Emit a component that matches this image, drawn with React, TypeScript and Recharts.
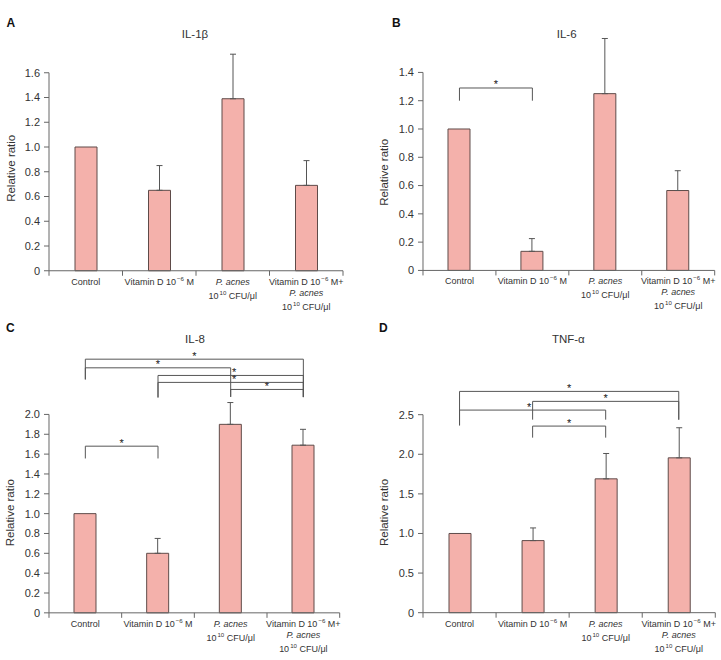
import React from 'react';
import { BarChart, Bar, XAxis, YAxis, ErrorBar, ReferenceLine } from 'recharts';

// treatment groups, shared by all four panels
const groups = ['Control', 'Vitamin D', 'P. acnes', 'Vitamin D + P. acnes'];

// axis captions per group: ^{..} = superscript, _.._ = italic
const groupCaptions = [
  ['Control'],
  ['Vitamin D 10^{−6} M'],
  ['_P. acnes_', '10^{10} CFU/μl'],
  ['Vitamin D 10^{−6} M+', '_P. acnes_', '10^{10} CFU/μl'],
];

// IL-1β
const il1bMean = [1.0, 0.65, 1.39, 0.69];
const il1bErr = [null, 0.2, 0.36, 0.2];
const il1bTicks = [0, 0.2, 0.4, 0.6, 0.8, 1.0, 1.2, 1.4, 1.6];

// IL-6
const il6Mean = [1.0, 0.135, 1.25, 0.565];
const il6Err = [null, 0.09, 0.39, 0.14];
const il6Ticks = [0, 0.2, 0.4, 0.6, 0.8, 1.0, 1.2, 1.4];

// IL-8
const il8Mean = [1.0, 0.6, 1.9, 1.69];
const il8Err = [null, 0.15, 0.22, 0.16];
const il8Ticks = [0, 0.2, 0.4, 0.6, 0.8, 1.0, 1.2, 1.4, 1.6, 1.8, 2.0];

// TNF-α
const tnfMean = [1.0, 0.91, 1.69, 1.955];
const tnfErr = [null, 0.16, 0.32, 0.38];
const tnfTicks = [0, 0.5, 1.0, 1.5, 2.0, 2.5];

// significance brackets: [from group, to group, bar level, left leg end, right leg end, star nudge px]
type Bracket = [number, number, number, number, number, number];
const il1bBrackets: Bracket[] = [];
const il6Brackets: Bracket[] = [[0, 1, 1.29, 1.2, 1.2, 0]];
const il8Brackets: Bracket[] = [
  [0, 3, 2.557, 2.353, 2.175, 0],
  [0, 2, 2.47, 2.353, 2.177, 0],
  [1, 3, 2.393, 2.171, 2.175, 3.5],
  [1, 3, 2.323, 2.171, 2.175, 3.5],
  [2, 3, 2.252, 2.177, 2.175, 0],
  [0, 1, 1.68, 1.556, 1.556, 0],
];
const tnfBrackets: Bracket[] = [
  [0, 3, 2.794, 2.365, 2.437, 0],
  [1, 3, 2.668, 2.437, 2.437, 0],
  [0, 2, 2.558, 2.365, 2.437, -3.5],
  [1, 2, 2.356, 2.21, 2.21, 0],
];

const FONT = '"Liberation Sans", Arial, Helvetica, sans-serif';
const AXIS = '#666';
const INK = '#333';
const BAR_FILL = '#f4b1ab';
const BAR_EDGE = '#5e4b49';
const BRACKET = '#555';

const Y_W = 50;
const X_H = 50;
const M_TOP = 20;
const M_RIGHT = 4;

const fmt = (v: number) => (v === 0 ? '0' : v.toFixed(1));

function richLine(line: string, baseSize: number) {
  const parts = line.split(/(\^\{[^}]*\}|_[^_]*_)/).filter(Boolean);
  let raised = false;
  return parts.map((p, i) => {
    if (p.startsWith('^{')) {
      raised = true;
      return (
        <tspan key={i} dy={-4} dx={1} fontSize={baseSize * 0.68}>
          {p.slice(2, -1)}
        </tspan>
      );
    }
    const dy = raised ? 4 : undefined;
    raised = false;
    if (p.startsWith('_') && p.endsWith('_')) {
      return (
        <tspan key={i} dy={dy} fontStyle="italic">
          {p.slice(1, -1)}
        </tspan>
      );
    }
    return (
      <tspan key={i} dy={dy}>
        {p}
      </tspan>
    );
  });
}

function GroupTick(props: any) {
  const { x, y, payload, index } = props;
  const half = payload?.offset || 36;
  const lines = groupCaptions[index] || [];
  let dy = 14;
  return (
    <g>
      <line x1={x - half} x2={x - half} y1={y} y2={y + 5} stroke={AXIS} />
      {index === groups.length - 1 && (
        <line x1={x + half} x2={x + half} y1={y} y2={y + 5} stroke={AXIS} />
      )}
      {lines.map((ln, i) => {
        const ty = y + dy;
        dy += i === 0 && lines.length === 3 ? 11 : 14;
        return (
          <text key={i} x={x} y={ty} textAnchor="middle" fontSize={9} fill={INK}>
            {richLine(ln, 9)}
          </text>
        );
      })}
    </g>
  );
}

// asterisk centred over a bracket, optionally nudged off a crossing leg
const star = (nudge: number) => (p: any) => {
  const vb = p.viewBox || {};
  return (
    <text
      x={vb.x + vb.width / 2 + nudge}
      y={vb.y + 0.5}
      textAnchor="middle"
      fontSize={11}
      fill="#222"
    >
      *
    </text>
  );
};

interface PanelProps {
  plot: { left: number; top: number; width: number; height: number };
  means: number[];
  errs: (number | null)[];
  ticks: number[];
  yMax: number;
  brackets: Bracket[];
}

function Panel({ plot, means, errs, ticks, yMax, brackets }: PanelProps) {
  const data = groups.map((g, i) => ({
    group: g,
    value: means[i],
    err: errs[i] == null ? null : [0, errs[i]],
  }));
  const topTick = ticks[ticks.length - 1];
  return (
    <div style={{ position: 'absolute', left: plot.left - Y_W, top: plot.top - M_TOP }}>
      <BarChart
        width={Y_W + plot.width + M_RIGHT}
        height={M_TOP + plot.height + X_H}
        data={data}
        margin={{ top: M_TOP, right: M_RIGHT, bottom: 0, left: 0 }}
      >
        <XAxis
          dataKey="group"
          height={X_H}
          stroke={AXIS}
          tickLine={false}
          tickSize={0}
          tickMargin={0}
          interval={0}
          tick={(p: any) => <GroupTick {...p} />}
        />
        <YAxis
          width={Y_W}
          domain={[0, yMax]}
          ticks={ticks}
          axisLine={false}
          stroke={AXIS}
          tickSize={5}
          tickMargin={4}
          tick={{ fill: INK, fontSize: 11 }}
          tickFormatter={fmt}
        />
        {/* value axis line stops at the last tick */}
        <ReferenceLine
          segment={[
            { x: groups[0], y: 0 },
            { x: groups[0], y: topTick },
          ]}
          position="start"
          stroke={AXIS}
        />
        {brackets.map(([a, b, level, endA, endB, nudge], i) => (
          <React.Fragment key={i}>
            <ReferenceLine
              segment={[
                { x: groups[a], y: level },
                { x: groups[b], y: level },
              ]}
              stroke={BRACKET}
              label={star(nudge)}
            />
            <ReferenceLine
              segment={[
                { x: groups[a], y: level },
                { x: groups[a], y: endA },
              ]}
              stroke={BRACKET}
            />
            <ReferenceLine
              segment={[
                { x: groups[b], y: level },
                { x: groups[b], y: endB },
              ]}
              stroke={BRACKET}
            />
          </React.Fragment>
        ))}
        <Bar
          dataKey="value"
          fill={BAR_FILL}
          stroke={BAR_EDGE}
          strokeWidth={1}
          barSize={22}
          isAnimationActive={false}
        >
          <ErrorBar dataKey="err" width={3} stroke="#555" strokeWidth={1} direction="y" />
        </Bar>
      </BarChart>
    </div>
  );
}

const panelA = { left: 49.3, top: 47.95, width: 294, height: 222.75 };
const panelB = { left: 423.3, top: 30.27, width: 291.7, height: 240.43 };
const panelC = { left: 49.3, top: 344.86, width: 290.7, height: 267.84 };
const panelD = { left: 422.7, top: 382.62, width: 292.3, height: 229.68 };

export default function App() {
  return (
    <div
      style={{
        position: 'absolute',
        left: 0,
        top: 0,
        width: 721,
        height: 660,
        background: '#fff',
        fontFamily: FONT,
      }}
    >
      <Panel plot={panelA} means={il1bMean} errs={il1bErr} ticks={il1bTicks} yMax={1.8} brackets={il1bBrackets} />
      <Panel plot={panelB} means={il6Mean} errs={il6Err} ticks={il6Ticks} yMax={1.7} brackets={il6Brackets} />
      <Panel plot={panelC} means={il8Mean} errs={il8Err} ticks={il8Ticks} yMax={2.7} brackets={il8Brackets} />
      <Panel plot={panelD} means={tnfMean} errs={tnfErr} ticks={tnfTicks} yMax={2.9} brackets={tnfBrackets} />

      {/* panel letters, titles and value-axis captions */}
      <svg
        width={721}
        height={660}
        style={{ position: 'absolute', left: 0, top: 0, pointerEvents: 'none' }}
        fontFamily={FONT}
      >
        <g fontWeight="bold" fontSize={12} fill="#111">
          <text x={6.5} y={26.8}>A</text>
          <text x={392} y={26.8}>B</text>
          <text x={6} y={331.8}>C</text>
          <text x={379} y={331.8}>D</text>
        </g>
        <g fontSize={11.5} fill={INK} textAnchor="middle">
          <text x={195} y={37.8}>IL-1β</text>
          <text x={566.7} y={38.2}>IL-6</text>
          <text x={195} y={342.8}>IL-8</text>
          <text x={568.3} y={343.2}>TNF-α</text>
        </g>
        <g fontSize={11.5} fill={INK} textAnchor="middle">
          <text x={15.4} y={168.3} transform="rotate(-90 15.4 168.3)">Relative ratio</text>
          <text x={387.6} y={172.3} transform="rotate(-90 387.6 172.3)">Relative ratio</text>
          <text x={14.4} y={512.7} transform="rotate(-90 14.4 512.7)">Relative ratio</text>
          <text x={387.6} y={512.5} transform="rotate(-90 387.6 512.5)">Relative ratio</text>
        </g>
      </svg>
    </div>
  );
}
